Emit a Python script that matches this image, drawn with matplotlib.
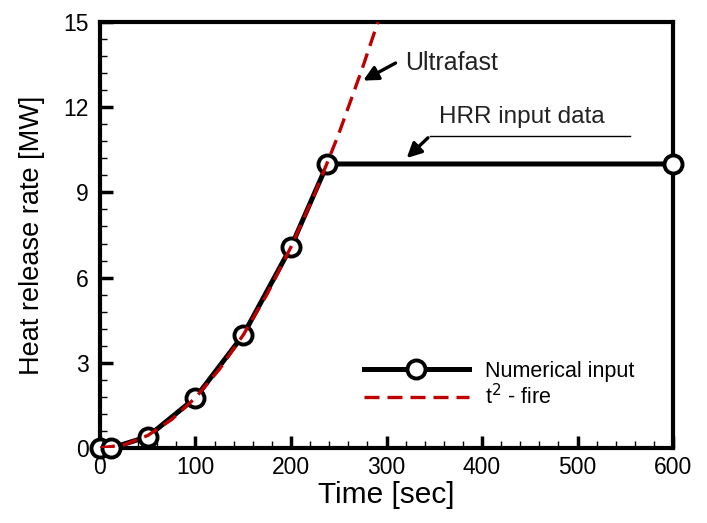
import matplotlib
matplotlib.use("Agg")
import matplotlib.pyplot as plt
from matplotlib.ticker import MultipleLocator

plt.rcParams['font.family'] = ['Liberation Sans', 'DejaVu Sans']

# Numerical input (HRR input data)
input_time = [0, 12, 50, 100, 150, 200, 238, 600]
input_hrr = [0.0, 0.0, 0.40, 1.77, 3.98, 7.08, 10.0, 10.0]

# t^2 ultrafast fire curve
fire_time = [0, 25, 50, 75, 100, 125, 150, 175, 200, 225, 250, 275, 291]
fire_hrr = [0.0, 0.11, 0.44, 1.0, 1.77, 2.77, 3.98, 5.42, 7.08, 8.96, 11.06, 13.4, 15.0]

xticks = [0, 100, 200, 300, 400, 500, 600]
yticks = [0, 3, 6, 9, 12, 15]

fig = plt.figure(figsize=(7.07, 5.23), dpi=100)
ax = fig.add_axes([0.1414, 0.1434, 0.8106, 0.8146])

l1, = ax.plot(input_time, input_hrr, color='black', lw=3.6, marker='o', ms=13,
              mfc='white', mec='black', mew=2.8, clip_on=False, zorder=3,
              label='Numerical input')
l2, = ax.plot(fire_time, fire_hrr, color='#c00000', lw=2.4, ls=(0, (4.5, 2.4)),
              zorder=4, label='t$^2$ - fire')

ax.set_xlim(0, 600)
ax.set_ylim(0, 15)
ax.set_xticks(xticks)
ax.set_yticks(yticks)
ax.xaxis.set_minor_locator(MultipleLocator(20))
ax.yaxis.set_minor_locator(MultipleLocator(0.6))
ax.tick_params(which='major', direction='in', length=9, width=2.5, labelsize=16.5)
ax.tick_params(axis='x', which='major', pad=6)
ax.tick_params(axis='y', which='major', pad=8)
ax.tick_params(which='minor', direction='in', length=5, width=1.0)
ax.tick_params(top=False, right=False, which='both')
for s in ax.spines.values():
    s.set_linewidth(3.0)

ax.set_xlabel('Time [sec]', fontsize=21.5, labelpad=1)
ax.set_ylabel('Heat release rate [MW]', fontsize=19.5, labelpad=13)

# Annotations
ax.annotate('', xy=(273, 12.89), xytext=(312, 13.6),
            arrowprops=dict(arrowstyle='-|>', color='black', lw=2.4, mutation_scale=22))
ax.text(319, 13.55, 'Ultrafast', fontsize=18, va='center', ha='left', color='#222222')

ax.plot([345.5, 555], [10.99, 10.99], color='black', lw=1.0)
ax.annotate('', xy=(319, 10.14), xytext=(345.5, 10.99),
            arrowprops=dict(arrowstyle='-|>', color='black', lw=2.4, mutation_scale=22))
ax.text(355, 11.65, 'HRR input data', fontsize=17.5, va='center', ha='left', color='#222222')

leg = ax.legend(handles=[l1, l2], loc='center left', bbox_to_anchor=(0.46, 0.148),
                frameon=False, fontsize=15.5, handlelength=4.9, handletextpad=0.75,
                labelspacing=0.1, borderpad=0, borderaxespad=0)

fig.savefig('out.png', dpi=100)
